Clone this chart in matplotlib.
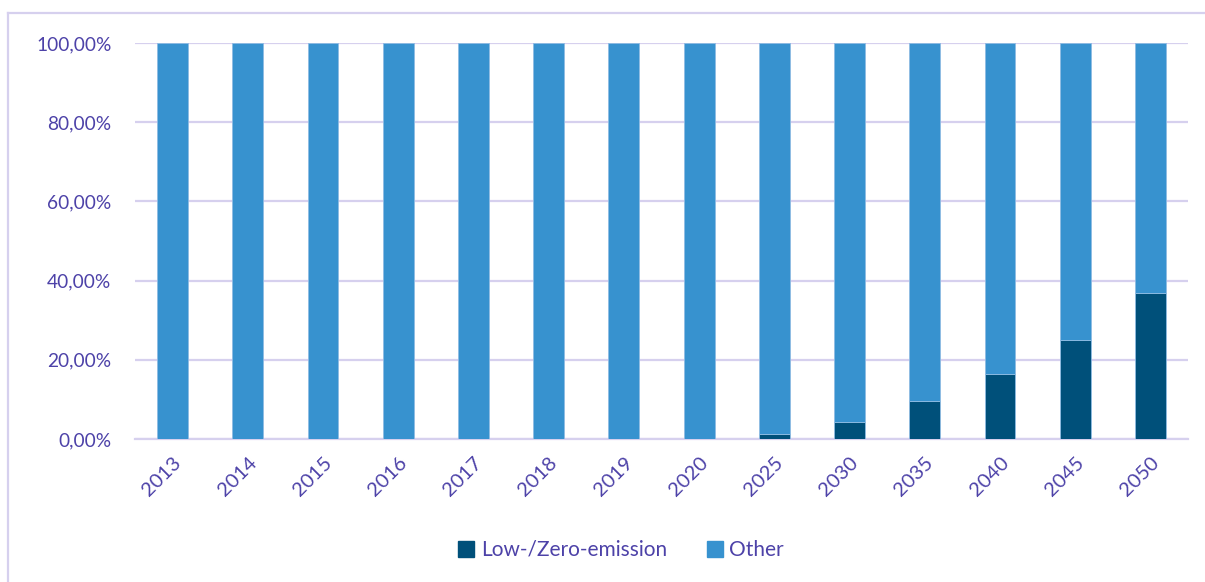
import matplotlib
matplotlib.use("Agg")
import matplotlib.pyplot as plt
from matplotlib.ticker import FuncFormatter
from matplotlib.lines import Line2D

years = ["2013", "2014", "2015", "2016", "2017", "2018", "2019", "2020",
         "2025", "2030", "2035", "2040", "2045", "2050"]
low_zero = [0.0, 0.0, 0.0, 0.0, 0.0, 0.0, 0.0, 0.0, 1.3, 4.4, 9.6, 16.5, 25.0, 36.9]
other = [100 - v for v in low_zero]

DARK = "#00507A"
LIGHT = "#3792CF"
TEXT = "#4D42A8"
GRID = "#D6D0EE"

plt.rcParams["font.family"] = ["Lato", "DejaVu Sans"]

fig = plt.figure(figsize=(12.05, 5.82), dpi=100)
ax = fig.add_axes([135 / 1205, 1 - 439 / 582, (1188 - 135) / 1205, (439 - 43) / 582])

x = list(range(len(years)))
ax.bar(x, [v / 100 for v in low_zero], width=0.41, color=DARK,
       edgecolor="#8FBCE3", linewidth=0.6, label="Low-/Zero-emission", zorder=3)
ax.bar(x, [v / 100 for v in other], width=0.41, bottom=[v / 100 for v in low_zero],
       color=LIGHT, edgecolor="#8FBCE3", linewidth=0.6, label="Other", zorder=3)

ax.set_xlim(-0.5, len(years) - 0.5)
ax.set_ylim(0, 1.0)
ax.set_yticks([0, 0.2, 0.4, 0.6, 0.8, 1.0])
ax.yaxis.set_major_formatter(FuncFormatter(lambda v, p: f"{v*100:.2f}%".replace(".", ",")))
ax.grid(axis="y", color=GRID, linewidth=1.6, zorder=0)
ax.set_axisbelow(True)
for s in ["top", "right", "left"]:
    ax.spines[s].set_visible(False)
ax.spines["bottom"].set_color(GRID)
ax.spines["bottom"].set_linewidth(1.6)

ax.set_xticks(x)
ax.set_xticklabels(years, rotation=45, ha="right", va="top", rotation_mode="anchor")
ax.tick_params(axis="x", length=0, pad=11, labelsize=14.5, labelcolor=TEXT)
ax.tick_params(axis="y", length=0, pad=17, labelsize=13.8, labelcolor=TEXT)

handles = [Line2D([], [], marker="s", linestyle="none", markersize=11, color=DARK),
           Line2D([], [], marker="s", linestyle="none", markersize=11, color=LIGHT)]
leg = fig.legend(handles, ["Low-/Zero-emission", "Other"], loc="center",
                 bbox_to_anchor=(620 / 1205, 1 - 550 / 582), ncol=2, frameon=False,
                 fontsize=15, handletextpad=0.2, columnspacing=1.8, handlelength=1.0)
for t in leg.get_texts():
    t.set_color(TEXT)

# outer chart frame (partially visible in the reference)
fig.add_artist(Line2D([8 / 1205, 8 / 1205], [0, 1 - 13 / 582], transform=fig.transFigure,
                      color=GRID, linewidth=1.6))
fig.add_artist(Line2D([8 / 1205, 1.01], [1 - 13 / 582, 1 - 13 / 582], transform=fig.transFigure,
                      color=GRID, linewidth=1.6))

fig.savefig("out.png", dpi=100)
